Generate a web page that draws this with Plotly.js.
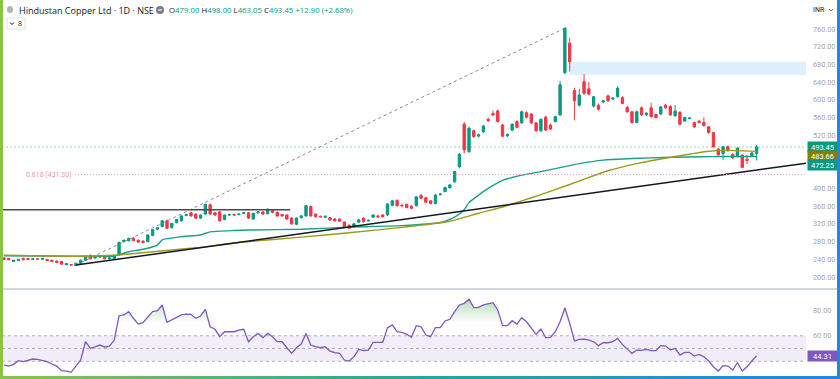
<!DOCTYPE html>
<html><head><meta charset="utf-8">
<script src="https://cdn.plot.ly/plotly-3.0.1.min.js"></script>
<style>
html,body{margin:0;padding:0;background:#fff;}
#wrap{position:relative;width:840px;height:379px;overflow:hidden;}
#chart{width:840px;height:379px;}
#lb{position:absolute;left:0;top:0;width:3px;height:379px;background:#8bc34a;}
#rb{position:absolute;right:0;top:0;width:3px;height:379px;background:#1e88e5;}
#bb{position:absolute;left:0;bottom:0;width:840px;height:3px;background:linear-gradient(90deg,#8bc34a,#26a69a 50%,#1e88e5);}
</style></head>
<body><div id="wrap"><div id="chart"></div><div id="lb"></div><div id="rb"></div><div id="bb"></div></div>
<script>
// ---- data ----
const open  = [243,242,235,237,242,242,240,241,240,240,238,236,235,228,228,226,231,238,249,243,245,246,241,241,250,280,282,287,283,281,280,294,308,314,327,312,323,327,339,345,342,333,342,363,345,347,330,340,341,341,344,345,331,345,347,343,351,346,341,340,333,319,334,338,359,342,337,335,334,331,331,324,317,313,324,333,327,335,338,340,340,362,373,362,364,360,361,384,379,372,366,386,393,402,415,449,545,483,530,518,528,556,569,575,543,519,532,551,548,571,568,548,530,561,543,551,566,661,728,621,588,641,625,586,588,595,609,602,607,605,583,573,549,582,566,582,567,568,588,585,564,572,552,558,549,552,549,539,526,489,479,494,477,472,475,466,474,479];
const high  = [245,243,239,241,244,243,242,242,243,241,239,237,236,231,229,232,239,248,251,247,248,247,245,250,280,285,289,290,285,283,296,308,312,328,330,322,331,339,343,347,344,341,366,366,347,349,341,343,343,344,347,347,345,349,349,355,353,348,342,342,335,335,340,363,362,344,339,339,336,333,332,326,319,322,331,335,330,342,340,342,367,374,375,365,366,362,383,388,381,374,387,390,404,410,440,480,550,540,533,524,543,560,575,578,546,524,547,554,576,574,570,550,558,564,546,564,643,763,740,627,625,658,640,609,592,600,612,606,631,608,586,575,576,585,572,593,569,586,591,588,588,574,562,561,551,554,561,541,528,491,496,497,479,493,477,476,482,498];
const low   = [239,238,234,236,238,239,239,239,239,236,234,232,228,226,226,225,229,236,240,241,243,240,239,240,248,277,280,281,277,276,278,292,306,312,309,309,321,325,337,336,331,331,340,340,338,325,328,338,339,339,342,331,329,343,340,341,344,336,336,329,318,317,332,336,336,334,334,333,327,325,324,311,308,311,322,323,325,333,334,334,338,360,359,358,355,353,359,376,367,364,364,384,391,400,413,445,479,480,514,515,525,550,563,549,516,516,529,536,546,558,546,528,528,530,532,549,564,658,664,554,585,611,610,583,576,592,595,600,605,590,571,546,547,564,564,560,558,566,580,564,562,543,550,556,537,547,540,524,492,474,464,483,467,470,446,455,472,463.05];
const close = [240,239,238,240,239,240,241,240.5,242,237,235,233,229,230,227.5,231,238,247,241,246,246,241,243,249,278,283,287,282,279,278,295,307,311,327,310,321,330,338,341,338,333,340,364,342,340,327,340,341,340,342,345,333,344,347,342,353,346,338,338,331,320,333,338,361,338,336,336,337,329,327,326,313,310,320,329,325,328,340,336,336,365,372,361,361,357,355,381,378,369,366,385,387,402,408,438,477,487,536,517,521,541,553,566,551,518,522,545,538,573,561,548,530,556,532,534,562,634,762,686,598,611,615,613,607,579,598,598,604,626,592,573,549,573,566,570,562,560,584,582,566,575,545,560,559,539,549,542,526,494,476,494,485,469,491,447,463,480,493.45];
const rsi   = [37.1,36.3,37.6,40.5,39.7,40.7,41.8,41.5,40.5,39.7,37.9,36.3,32.7,32.4,31.4,35.8,41.0,55.3,50.1,51.2,52.7,51.2,51.9,56.6,75.6,76.2,78.8,73.6,69.1,70.2,74.9,78.8,79.5,84.0,70.4,72.3,74.3,76.2,76.9,76.7,73.6,75.4,80.6,67.0,65.0,59.2,63.1,63.1,63.1,64.4,65.0,55.3,59.2,61.8,58.5,61.8,59.2,55.3,55.3,50.6,46.2,50.6,53.5,61.8,52.7,51.4,50.6,51.4,48.0,46.7,46.2,41.0,40.2,43.6,49.3,48.3,48.8,54.8,54.8,54.8,66.3,68.4,63.1,62.6,61.1,58.7,67.8,67.0,60.5,59.2,66.3,66.3,71.5,72.8,78.8,84.0,85.3,88.4,81.9,82.2,84.0,84.8,85.8,80.1,67.8,67.8,71.7,69.1,74.1,70.9,65.7,61.1,65.2,58.5,58.7,63.1,70.9,81.9,69.7,55.9,57.2,57.4,56.6,55.3,52.2,54.5,54.5,55.3,57.9,53.2,49.6,46.2,48.8,48.6,49.3,48.3,48.3,52.2,51.9,48.8,50.1,44.9,47.0,47.0,44.1,45.4,43.6,40.2,35.8,32.4,36.6,36.3,33.2,38.9,32.4,35.8,40.2,44.31];

const tealIdx = [0,10,16,22,23,26,28,30,32,33,37,41,43,48,51,62,73,83,91,94,96,97,99,101,104,108,112,116,120,125,130,135,140,145,150,157];
const tealVal = [248,247.5,247,247,247,257,261,265,272,284,291,295,302,305,306,308,313,316,323,335,352,368,385,400,418,430,438,447,456,464,467,469,470.5,471.5,472,472.25];
const oliveIdx = [0,16,23,30,40,49,62,72,83,93,99,104,108,112,117,122,126,132,140,147,151,157];
const oliveVal = [249,247,249,256,266,278,290,300,312,326,344,358,372,386,405,425,440,456,472,484,486,483.66];

const trendIdx = [15,167.3];      const trendVal = [227,457];
const resistIdx = [-0.5,59.7];    const resistVal = [352,352];
const fibIdx = [15,117];          const fibVal = [227,762];
const fibLevel = 0.618;           const fibPrice = 431.30;
const zoneIdx = [118];            const zoneVal = [656,686];
const priceTicks = [200,240,280,320,360,400,520,560,600,640,680,720,760];
const rsiTicks = [60,80];
const rsiBands = [40,50,60];
const obLevel = 70;
const lastMA1 = 472.25, lastMA2 = 483.66;
const title = 'Hindustan Copper Ltd · 1D · NSE';
const ohlcText = ['479.00','498.00','463.05','493.45','+12.90 (+2.68%)'];

// ---- layout helpers ----
const W=840,H=379;
const px = x=>x/W, py = y=>1-y/H;
const idx = close.map((_,i)=>i);
const last = close[close.length-1];
const xDom=[px(2),px(806)];
const GREEN='#089981', RED='#f23645', TEAL='#17a088', OLIVE='#9c9a1c', PURPLE='#7e57c2';

const traces = [
 {type:'candlestick',x:idx,open,high,low,close,xaxis:'x',yaxis:'y',whiskerwidth:0,
  increasing:{line:{color:GREEN,width:1},fillcolor:GREEN},
  decreasing:{line:{color:RED,width:1},fillcolor:RED},hoverinfo:'skip'},
 {type:'scatter',mode:'lines',x:fibIdx,y:fibVal,line:{color:'#8a8d96',width:1,dash:'3px,3px'},xaxis:'x',yaxis:'y'},
 {type:'scatter',mode:'lines',x:tealIdx,y:tealVal,line:{color:TEAL,width:1.4,shape:'spline',smoothing:0.5},xaxis:'x',yaxis:'y'},
 {type:'scatter',mode:'lines',x:oliveIdx,y:oliveVal,line:{color:OLIVE,width:1.4,shape:'spline',smoothing:0.5},xaxis:'x',yaxis:'y'},
 {type:'scatter',mode:'lines',x:trendIdx,y:trendVal,line:{color:'#131722',width:1.5},xaxis:'x',yaxis:'y'},
 {type:'scatter',mode:'lines',x:resistIdx,y:resistVal,line:{color:'#4a4a4a',width:1.5},xaxis:'x',yaxis:'y'},
 {type:'scatter',mode:'lines',x:[fibIdx[0]-0.2,167.3],y:[fibPrice,fibPrice],line:{color:'#f48fb1',width:1,dash:'1px,2px'},xaxis:'x',yaxis:'y'},
 // RSI
 {type:'scatter',mode:'lines',x:idx,y:rsi.map(()=>obLevel),line:{width:0},xaxis:'x2',yaxis:'y2',hoverinfo:'skip'},
 {type:'scatter',mode:'lines',x:idx,y:rsi,line:{color:PURPLE,width:1.3},fill:'tonexty',
  fillgradient:{type:'vertical',start:obLevel,stop:90,colorscale:[[0,'rgba(76,175,80,0)'],[1,'rgba(76,175,80,0.45)']]},
  xaxis:'x2',yaxis:'y2'}
];

const shapes = [
 {type:'rect',xref:'x',yref:'y',x0:zoneIdx[0],x1:167.3,y0:zoneVal[0],y1:zoneVal[1],fillcolor:'rgba(33,150,243,0.15)',line:{width:0},layer:'below'},
 {type:'line',xref:'paper',yref:'y',x0:xDom[0],x1:xDom[1],y0:last,y1:last,line:{color:'rgba(8,153,129,0.45)',width:1,dash:'2px,2px'}},
 {type:'rect',xref:'paper',yref:'y2',x0:xDom[0],x1:xDom[1],y0:rsiBands[0],y1:rsiBands[2],fillcolor:'rgba(126,87,194,0.1)',line:{width:0},layer:'below'},
 ...rsiBands.map(v=>({type:'line',xref:'paper',yref:'y2',x0:xDom[0],x1:xDom[1],y0:v,y1:v,line:{color:'rgba(120,123,134,0.55)',width:1,dash:'3px,3px'}})),
 {type:'line',xref:'paper',yref:'paper',x0:0,x1:1,y0:py(289),y1:py(289),line:{color:'#d1d4dc',width:2}},
 // header icons
 {type:'circle',xref:'paper',yref:'paper',x0:px(7),x1:px(13),y0:py(13),y1:py(6),fillcolor:'#b2b5be',line:{width:0}},
 {type:'circle',xref:'paper',yref:'paper',x0:px(156),x1:px(164),y0:py(14),y1:py(6),fillcolor:'#787b86',line:{width:0}},
 {type:'line',xref:'paper',yref:'paper',x0:px(158),x1:px(162),y0:py(10),y1:py(10),line:{color:'#fff',width:1.2}},
 {type:'rect',xref:'paper',yref:'paper',x0:px(7),x1:px(25),y0:py(29),y1:py(18),fillcolor:'#fff',line:{color:'#e0e3eb',width:1}},
 {type:'path',xref:'paper',yref:'paper',path:`M ${px(10)},${py(22.5)} L ${px(12)},${py(24.5)} L ${px(14)},${py(22.5)}`,line:{color:'#131722',width:1}},
 {type:'path',xref:'paper',yref:'paper',path:`M ${px(829)},${py(9)} L ${px(831)},${py(11)} L ${px(833)},${py(9)}`,line:{color:'#787b86',width:1}}
];

const lbl = (text,y,bg,yshift)=>({xref:'paper',yref:y[0],x:px(838),y:y[1],xanchor:'right',yanchor:'middle',text,
  showarrow:false,bgcolor:bg,font:{color:'#fff',size:7.5,family:'Roboto'},width:28,height:9,borderpad:0.5,yshift:yshift});

const ohlcHtml = '<span style="color:#131722">O</span>'+ohlcText[0]+' <span style="color:#131722">H</span>'+ohlcText[1]+
 ' <span style="color:#131722">L</span>'+ohlcText[2]+' <span style="color:#131722">C</span>'+ohlcText[3]+' '+ohlcText[4];

const annotations = [
 {xref:'paper',yref:'paper',x:px(17),y:py(10),xanchor:'left',yanchor:'middle',text:title,showarrow:false,font:{size:9,color:'#131722',family:'Open Sans'}},
 {xref:'paper',yref:'paper',x:px(167),y:py(10),xanchor:'left',yanchor:'middle',text:ohlcHtml,showarrow:false,font:{size:7.8,color:GREEN,family:'Open Sans'}},
 {xref:'paper',yref:'paper',x:px(19.5),y:py(23.5),xanchor:'center',yanchor:'middle',text:'8',showarrow:false,font:{size:7,color:'#131722',family:'Open Sans'}},
 {xref:'paper',yref:'paper',x:px(811),y:py(10),xanchor:'left',yanchor:'middle',text:'INR',showarrow:false,font:{size:7,color:'#131722',family:'Roboto'}},
 {xref:'paper',yref:'y',x:px(24),y:fibPrice,xanchor:'left',yanchor:'middle',text:fibLevel+' ('+fibPrice.toFixed(2)+')',showarrow:false,font:{size:7,color:'#f48fb1',family:'Roboto'}},
 lbl(last.toFixed(2),['y',last],GREEN,0),
 lbl(lastMA2.toFixed(2),['y',lastMA2],'#80800b',-4.4),
 lbl(lastMA1.toFixed(2),['y',lastMA1],GREEN,-9),
 lbl(rsi[rsi.length-1].toFixed(2),['y2',rsi[rsi.length-1]],PURPLE,0)
];

const axX = {domain:xDom,range:[-0.42,167.3],showgrid:false,zeroline:false,showticklabels:false,ticks:'',showline:false};
const layout = {
 width:W,height:H,margin:{l:0,r:0,t:0,b:0},paper_bgcolor:'#fff',plot_bgcolor:'#fff',showlegend:false,hovermode:false,
 xaxis:Object.assign({anchor:'y'},axX,{rangeslider:{visible:false}}),
 xaxis2:Object.assign({anchor:'y2',matches:'x'},axX),
 yaxis:{domain:[py(288),py(20)],range:[175.2,780.3],side:'right',anchor:'x',showgrid:false,zeroline:false,
   tickvals:priceTicks,ticktext:priceTicks.map(v=>v.toFixed(2)),ticks:'',ticklabelstandoff:6,tickfont:{size:7.3,color:'#a3a6af',family:'Roboto'}},
 yaxis2:{domain:[py(375),py(290)],range:[29.3,95.7],side:'right',anchor:'x2',showgrid:false,zeroline:false,
   tickvals:rsiTicks,ticktext:rsiTicks.map(v=>v.toFixed(2)),ticks:'',ticklabelstandoff:6,tickfont:{size:7.3,color:'#a3a6af',family:'Roboto'}},
 shapes,annotations
};
Plotly.newPlot('chart',traces,layout,{staticPlot:true,displayModeBar:false});
</script></body></html>
